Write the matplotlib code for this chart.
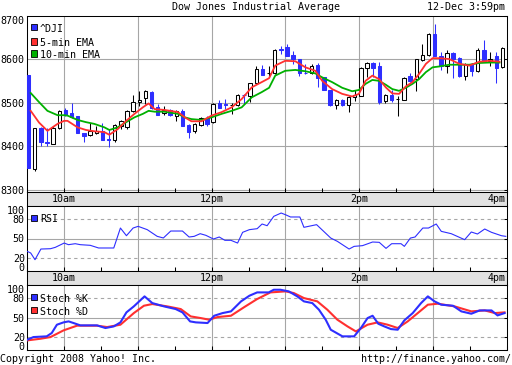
import numpy as np
import matplotlib
matplotlib.use('Agg')
import matplotlib.pyplot as plt
from matplotlib.patches import Rectangle

# ---- data (minutes after 9:30) ----
bar_open = [8564, 8348, 8442, 8411, 8406, 8442, 8484, 8477, 8469, 8431,
            8426, 8431, 8436, 8418, 8415, 8448, 8444, 8482, 8502, 8511,
            8525, 8490, 8476, 8484, 8471, 8481, 8450, 8436, 8450, 8465,
            8457, 8499, 8497, 8496, 8496, 8519, 8517, 8545, 8578, 8569,
            8569, 8623, 8628, 8610, 8601, 8569, 8568, 8587, 8559, 8530,
            8496, 8507, 8496, 8513, 8517, 8580, 8593, 8586, 8504, 8518,
            8509, 8508, 8561, 8555, 8599, 8611, 8659, 8607, 8584, 8615,
            8604, 8561, 8590, 8573, 8622, 8596, 8607, 8582]
bar_high = [8564, 8442, 8444, 8442, 8447, 8484, 8488, 8499, 8471, 8432,
            8455, 8448, 8453, 8440, 8452, 8461, 8484, 8518, 8528, 8530,
            8527, 8498, 8492, 8486, 8484, 8486, 8452, 8454, 8467, 8471,
            8500, 8507, 8509, 8499, 8520, 8521, 8547, 8584, 8587, 8586,
            8624, 8630, 8636, 8619, 8602, 8590, 8590, 8591, 8560, 8531,
            8510, 8509, 8515, 8530, 8582, 8595, 8595, 8594, 8520, 8530,
            8517, 8559, 8568, 8602, 8636, 8661, 8682, 8618, 8622, 8618,
            8606, 8592, 8592, 8626, 8645, 8618, 8618, 8628]
bar_low = [8350, 8344, 8400, 8400, 8405, 8440, 8470, 8465, 8430, 8410,
           8425, 8429, 8415, 8398, 8410, 8440, 8440, 8480, 8494, 8498,
           8486, 8472, 8473, 8471, 8459, 8446, 8419, 8432, 8446, 8446,
           8455, 8488, 8486, 8475, 8494, 8498, 8502, 8544, 8564, 8559,
           8567, 8613, 8607, 8590, 8563, 8566, 8566, 8536, 8529, 8494,
           8486, 8494, 8479, 8504, 8515, 8559, 8559, 8498, 8499, 8502,
           8469, 8506, 8549, 8528, 8597, 8609, 8607, 8577, 8568, 8557,
           8559, 8553, 8561, 8571, 8595, 8586, 8547, 8580]
bar_close = [8350, 8442, 8410, 8407, 8442, 8482, 8472, 8467, 8431, 8423,
             8436, 8436, 8416, 8415, 8449, 8459, 8482, 8502, 8508, 8528,
             8488, 8473, 8484, 8473, 8481, 8448, 8434, 8452, 8465, 8452,
             8498, 8489, 8495, 8496, 8518, 8518, 8545, 8578, 8565, 8569,
             8622, 8621, 8609, 8600, 8568, 8568, 8586, 8557, 8531, 8496,
             8507, 8496, 8513, 8518, 8580, 8593, 8580, 8503, 8518, 8507,
             8509, 8557, 8551, 8600, 8610, 8659, 8609, 8584, 8616, 8600,
             8561, 8590, 8573, 8622, 8597, 8601, 8580, 8626]

ema_t = [3.0, 9.8, 16.6, 24.8, 30.2, 32.9, 41.1, 47.9, 54.7, 62.9, 66.9, 73.7,
         80.6, 87.3, 94.1, 98.8, 103.7, 111.8, 122.7, 128.2, 133.6, 141.8,
         149.9, 158.1, 166.3, 174.4, 182.6, 190.7, 196.7, 201.7, 209.8, 218,
         226.2, 234.3, 239.8, 247.9, 256.1, 264.2, 269.7, 275.1, 280.6, 286,
         291.5, 296.8, 302.3, 307.7, 313.2, 318.6, 324.1, 329.5, 335, 343.1,
         351.3, 359.4, 367.6, 375.8, 383.9]
ema5 = [8482, 8455, 8436, 8452, 8459, 8459, 8444, 8438, 8435, 8433, 8427, 8440,
        8459, 8475, 8490, 8499, 8486, 8484, 8479, 8467, 8458, 8458,
        8471, 8479, 8490, 8509, 8536, 8548, 8557, 8586, 8597, 8596,
        8582, 8574, 8551, 8532, 8521, 8515, 8521, 8551, 8563, 8555,
        8536, 8522, 8521, 8538, 8548, 8567, 8590, 8603, 8603, 8601,
        8590, 8586, 8595, 8597, 8595]
ema10 = [8523, 8502, 8482, 8472, 8472, 8471, 8461, 8456, 8452, 8444, 8438, 8444,
         8456, 8467, 8475, 8482, 8480, 8480, 8475, 8467, 8463, 8461,
         8467, 8475, 8482, 8490, 8513, 8525, 8535, 8563, 8574, 8576,
         8573, 8568, 8559, 8548, 8535, 8527, 8530, 8544, 8553, 8551,
         8542, 8532, 8528, 8535, 8544, 8555, 8571, 8582, 8584, 8588,
         8588, 8588, 8592, 8593, 8593]

rsi_t = [0.2, 3.0, 6.5, 11.3, 19.1, 23, 30.2, 33.7, 39.2, 43.3, 51.4, 58.2,
         70.5, 75.9, 80.8, 86.2, 90.3, 97.7, 105.8, 110.8, 116.8, 126.3, 131.7,
         135.8, 140.7, 145.3, 151.5, 156.2, 160.8, 165.7, 171.1, 175.2, 180.7,
         187, 191, 195.1, 200.5, 206.5, 210, 214.1, 221.7, 225, 235.3, 246.8,
         252.2, 261.7, 265.8, 272.6, 280.8, 286.2, 291.7, 296.3, 303.9, 306.6,
         311.5, 315.3, 321.6, 326.2, 332.5, 336.6, 344.7, 355.6, 361, 366,
         371.9, 377.4, 385.5, 389]
rsi_val = [30.2, 27.7, 17.4, 33.8, 34.3, 36.4, 43, 40.5, 42, 40.5, 39.5, 35.4,
           35.4, 66.1, 54.3, 66.1, 68.7, 63.6, 53.3, 50.8, 61.5, 61.5, 52.3,
           53.3, 57.4, 54.9, 49.2, 52.3, 47.2, 47.2, 43, 59.5, 63.6,
           65.1, 72.3, 69.7, 84.1, 89.2, 86.6, 83.1, 83.1, 67.2, 71.3, 50.7,
           45.6, 33.8, 37.9, 39, 44.6, 44.1, 34.8, 42, 42, 37.9,
           50.7, 52.3, 66.1, 66.1, 72.3, 61, 57.4, 48.2, 60, 56.9,
           64.6, 59.5, 54.3, 53.3]

stk_t = [0.2, 5.2, 16, 20.1, 24.3, 29.7, 33.8, 37.8, 43.3, 56.9, 63.7, 70.5,
         75.9, 80.8, 86.8, 95.5, 101.8, 111.3, 120.8, 126.3, 132.5, 137.2,
         146.7, 152.1, 158.9, 165.7, 173.9, 180.7, 187, 196.4, 200.5, 205.9,
         212.7, 219.6, 225, 231.8, 237.2, 242.7, 246.8, 256.3, 265.8, 271.3,
         276.7, 280.8, 285.4, 290.3, 295.7, 301.2, 306.6, 313.4, 320.2, 325.7,
         331.1, 336.6, 346.1, 352.9, 361, 367.8, 377.4, 382.3, 388]
stk_k = [15.8, 19.9, 21, 26.1, 38.9, 42.5, 44, 41.5, 37.9, 37.9, 33.8, 36.3,
         42.5, 57.9, 67.1, 82.5, 72.2, 67.1, 63, 57.9, 44, 42.5,
         41.5, 52.7, 56.8, 59.4, 74.8, 83.5, 88.6, 88.6, 92.7, 92.7,
         90.2, 82.5, 74.8, 72.2, 62, 46.6, 31.2, 21, 21, 33.8,
         49.1, 52.7, 40.4, 36.3, 32.2, 31.2, 45.6, 56.8, 72.2, 82.5,
         74.8, 69.7, 68.1, 59.4, 55.8, 60.9, 60.9, 53.2, 56.8]
std_t = [0.2, 10.9, 19.1, 29.7, 40.6, 56.9, 65.1, 75.9, 86.8, 95, 101.8, 114,
         124.9, 133, 141.2, 148, 154.9, 165.7, 176.6, 187, 197.8, 210, 216.8,
         225, 235.9, 244, 252.2, 260.4, 267.2, 276.7, 284.9, 293, 301.2, 309.3,
         317.5, 325.7, 333.8, 347.4, 361, 371.9, 380.1, 388]
std_d = [14.8, 17.3, 19.9, 30.2, 37.4, 37.4, 35.3, 38.9, 56.8, 68.1, 70.7, 67.1,
         63, 51.7, 49.1, 46.6, 50.7, 52.7, 66.1, 78.4, 88.6, 90.2, 87.6,
         79.9, 74.8, 62, 46.6, 36.3, 28.6, 38.9, 42.5, 38.9, 33.8, 44,
         56.8, 69.7, 71.2, 67.1, 59.4, 60.9, 56.8, 57.9]

time_labels = ['10am', '12pm', '2pm', '4pm']
time_label_pos = [30, 150, 270, 390]
price_ticks = [8300, 8400, 8500, 8600, 8700]
osc_ticks = [0, 20, 50, 80, 100]

W, H = 512, 365
BLUE = '#2e2eff'
RED = '#ff3030'
GREEN = '#00b000'
GRID = '#a6a6a6'
BAND = '#e2e2e2'
HOURS = [30, 90, 150, 210, 270, 330]


def box(x0, y0, x1, y1):
    # pixel box (top-left origin) -> figure fraction
    return [x0 / W, 1 - y1 / H, (x1 - x0) / W, (y1 - y0) / H]


def fy(y):
    return 1 - y / H


def setup_panel(ax, ylim, ticks, labels, solid, dashed):
    ax.set_xlim(0, 390)
    ax.set_ylim(*ylim)
    ax.set_xticks(np.arange(0, 391, 30))
    ax.set_xticklabels([])
    ax.tick_params(axis='x', direction='in', length=3, width=0.75,
                   bottom=True, top=False)
    ax.set_yticks(ticks)
    ax.set_yticklabels(labels)
    ax.tick_params(axis='y', direction='in', length=2.5, width=0.75,
                   left=False, right=True, labelleft=True, pad=1.6)
    for t in HOURS:
        ax.axvline(t, color=GRID, lw=0.8, zorder=0.5)
    for v in solid:
        ax.axhline(v, color=GRID, lw=0.8, zorder=0.5)
    for v in dashed:
        ax.axhline(v, color=GRID, lw=0.8, ls=(0, (3, 3)), zorder=0.5)
    for s in ax.spines.values():
        s.set_linewidth(0.75)


def legend_entry(x, y_sq, y_text, color, label):
    fig.add_artist(Rectangle((x / W, fy(y_sq + 6)), 6 / W, 6 / H,
                             transform=fig.transFigure, facecolor=color,
                             edgecolor='black', lw=0.6))
    fig.text((x + 9) / W, fy(y_text), label, va='baseline', ha='left')


def band(y0, y1):
    b = fig.add_axes(box(27, y0, 507, y1))
    b.set_facecolor(BAND)
    b.set_xlim(0, 390)
    b.set_xticks([])
    b.set_yticks([])
    for s in b.spines.values():
        s.set_linewidth(0.75)
    for pos, lab in zip(time_label_pos, time_labels):
        if pos == 390:
            b.text(388.8, 0.29, lab, ha='right', va='baseline',
                   transform=b.get_xaxis_transform())
        else:
            b.text(pos, 0.29, lab, ha='center', va='baseline',
                   transform=b.get_xaxis_transform())
    return b


plt.rcParams['font.family'] = ['DejaVu Sans Mono']
plt.rcParams['font.size'] = 7.2

fig = plt.figure(figsize=(W / 100, H / 100), dpi=100)
fig.patch.set_facecolor('white')

# ---- price panel ----
ax = fig.add_axes(box(27, 16, 507, 192))
setup_panel(ax, (8295.4, 8700), price_ticks, [str(p) for p in price_ticks],
            [8300, 8400, 8500, 8600], [])
ax.yaxis.get_major_ticks()[-1].label1.set_va('top')

bar_t = np.arange(len(bar_open)) * 5 + 1.25
o = np.array(bar_open)
c = np.array(bar_close)
up = c >= o
ax.vlines(bar_t[up], np.array(bar_low)[up], np.array(bar_high)[up],
          color='black', lw=0.75, zorder=2)
ax.vlines(bar_t[~up], np.array(bar_low)[~up], np.array(bar_high)[~up],
          color=BLUE, lw=0.75, zorder=2)
ax.bar(bar_t[up], (c - o)[up], bottom=o[up], width=2.8, facecolor='white',
       edgecolor='black', lw=0.75, zorder=3)
ax.bar(bar_t[~up], (o - c)[~up], bottom=c[~up], width=2.8, facecolor=BLUE,
       edgecolor=BLUE, lw=0.75, zorder=3)
ax.plot(ema_t, ema10, color=GREEN, lw=1.3, zorder=4)
ax.plot(ema_t, ema5, color=RED, lw=1.3, zorder=4)

legend_entry(31, 24, 31.5, BLUE, '^DJI')
legend_entry(31, 38.5, 45.5, RED, '5-min EMA')
legend_entry(31, 50.5, 58.5, GREEN, '10-min EMA')

band(192, 206)

# ---- RSI panel ----
ax_rsi = fig.add_axes(box(27, 206, 507, 271))
setup_panel(ax_rsi, (0, 100), osc_ticks, [str(v) for v in osc_ticks],
            [50], [20, 80])
ax_rsi.yaxis.get_major_ticks()[-1].label1.set_va('top')
ax_rsi.yaxis.get_major_ticks()[0].label1.set_va('baseline')
ax_rsi.plot(rsi_t, rsi_val, color=BLUE, lw=0.8, zorder=3)
legend_entry(31, 215, 222.5, BLUE, 'RSI')

band(271, 285)

# ---- Stochastic panel ----
ax_st = fig.add_axes(box(27, 285, 507, 350))
setup_panel(ax_st, (0, 100), osc_ticks, [str(v) for v in osc_ticks],
            [50], [20, 80])
ax_st.yaxis.get_major_ticks()[-1].label1.set_va('top')
ax_st.yaxis.get_major_ticks()[0].label1.set_va('baseline')
ax_st.plot(std_t, std_d, color=RED, lw=1.5, zorder=3)
ax_st.plot(stk_t, stk_k, color=BLUE, lw=1.5, zorder=4)
legend_entry(31, 293.5, 302, BLUE, 'Stoch %K')
legend_entry(31, 307, 315, RED, 'Stoch %D')

# ---- header / footer text ----
fig.text(256 / W, fy(10), 'Dow Jones Industrial Average', ha='center', va='baseline')
fig.text(505 / W, fy(10), '12-Dec 3:59pm', ha='right', va='baseline')
fig.text(0.5 / W, fy(361.5), 'Copyright 2008 Yahoo! Inc.', ha='left', va='baseline')
fig.text(511 / W, fy(361.5), 'http://finance.yahoo.com/', ha='right', va='baseline')

fig.savefig('out.png', dpi=100)
